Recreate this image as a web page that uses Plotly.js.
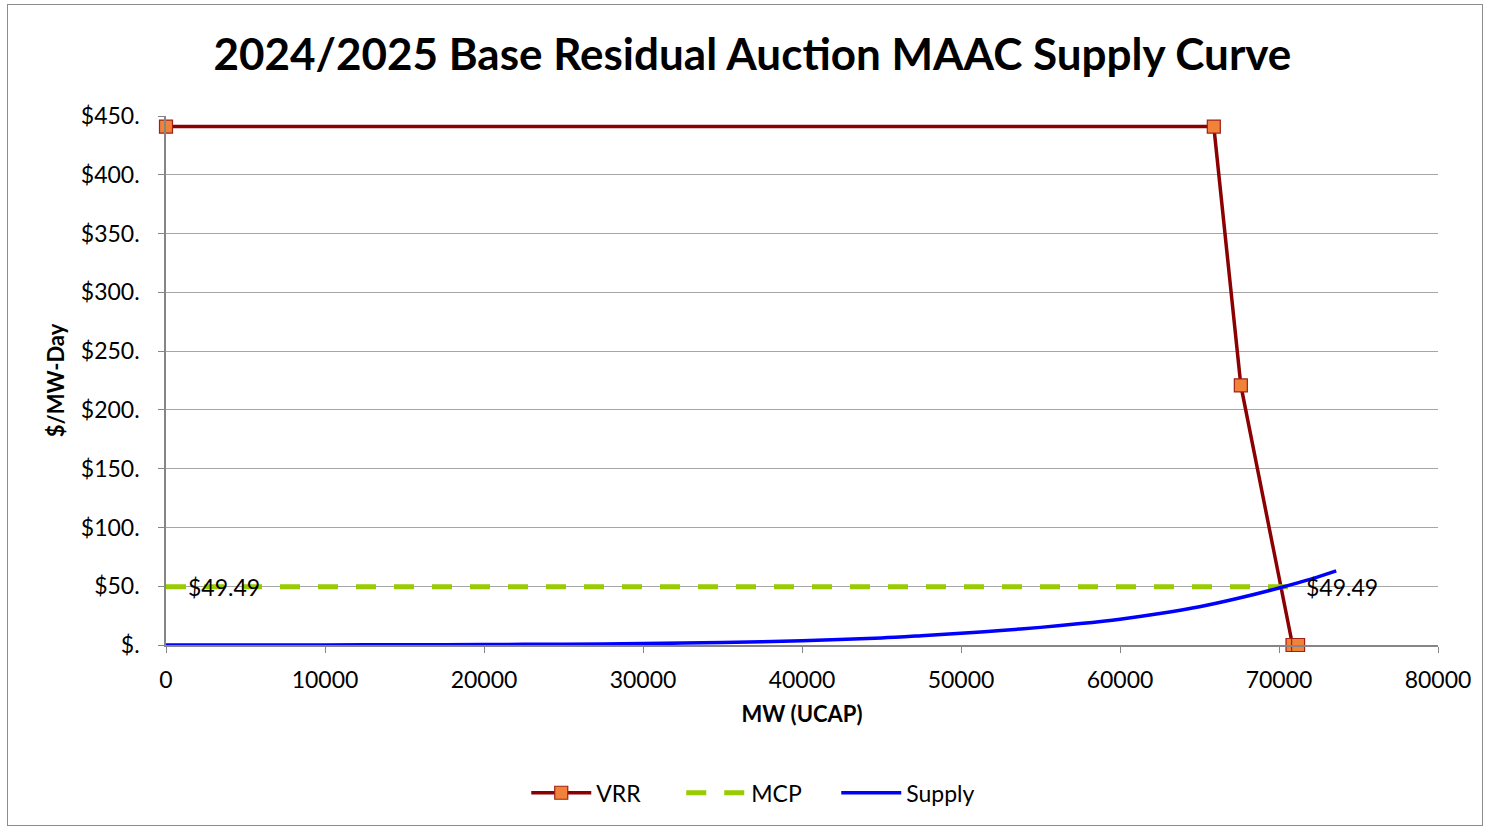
<!DOCTYPE html>
<html>
<head>
<meta charset="utf-8">
<script src="https://cdn.plot.ly/plotly-3.0.1.min.js"></script>
<style>
  body { margin: 0; background: #fff; }
  #chart { position: absolute; left: 7px; top: 4px; width: 1476px; height: 822px; border: 1px solid #8c8c8c; box-sizing: border-box; }
</style>
</head>
<body>
<div id="chart"></div>
<script>
// VRR curve points
var vrrMW = [0, 65900, 67600, 70850, 71200];
var vrrPrice = [441, 441, 220.8, 0, 0];

// market clearing price line
var mcpMW = [0, 70700];
var mcpPrice = [49.49, 49.49];
var mcpLabels = ['$49.49', '$49.49'];

// supply curve
var supplyMW = [0, 5000, 10000, 15000, 20000, 25000, 30000, 35000, 40000, 45000, 47500, 50000, 52500, 55000, 57500, 60000, 62500, 65000, 67500, 70000, 72000, 73600];
var supplyPrice = [0, 0.05, 0.1, 0.2, 0.4, 0.7, 1.2, 2.1, 3.6, 6.0, 7.9, 10, 12.3, 15, 18.2, 22, 26.8, 32.6, 40, 48.5, 56, 63];

var yTicks = [0, 50, 100, 150, 200, 250, 300, 350, 400, 450];
var yTickText = ['$.', '$50.', '$100.', '$150.', '$200.', '$250.', '$300.', '$350.', '$400.', '$450.'];

var font = 'Lato, "Open Sans", sans-serif';

var vrr = {
    x: vrrMW,
    y: vrrPrice,
    name: 'VRR',
    type: 'scatter',
    mode: 'lines+markers',
    cliponaxis: false,
    line: { color: '#8b0000', width: 3.5 },
    marker: { symbol: 'square', size: 13, color: '#f0823a', line: { color: '#a02018', width: 1.2 } }
};

var mcp = {
    x: mcpMW,
    y: mcpPrice,
    name: 'MCP',
    type: 'scatter',
    mode: 'lines',
    line: { color: '#99cc00', width: 5, dash: '20px,18px' }
};

var supply = {
    x: supplyMW,
    y: supplyPrice,
    name: 'Supply',
    type: 'scatter',
    mode: 'lines',
    line: { color: '#0000ff', width: 3.5, shape: 'spline', smoothing: 0.8 }
};

var annotations = [];
for (var i = 0; i < mcpMW.length; i++) {
    annotations.push({
        x: mcpMW[i], y: mcpPrice[i], text: mcpLabels[i],
        showarrow: false, xanchor: 'left', yanchor: 'middle',
        xshift: i == 0 ? 20 : 14,
        font: { family: font, size: 23, color: '#000' }
    });
}

var layout = {
    width: 1474,
    height: 820,
    margin: { l: 158, r: 44, t: 111, b: 179 },
    paper_bgcolor: '#fff',
    plot_bgcolor: '#fff',
    font: { family: font, size: 23, color: '#000' },
    title: {
        text: '<b>2024/2025 Base Residual Auction MAAC Supply Curve</b>',
        font: { family: font, size: 44, color: '#000' },
        x: 0.505, xanchor: 'center',
        yref: 'container', y: 0.939, yanchor: 'middle'
    },
    xaxis: {
        range: [0, 80000],
        dtick: 10000,
        tickformat: 'd',
        showgrid: false,
        zeroline: false,
        showline: true,
        linecolor: '#868686',
        linewidth: 1.5,
        ticks: 'outside',
        ticklen: 6,
        tickcolor: '#868686',
        ticklabelstandoff: 8,
        title: { text: '<b>MW (UCAP)</b>', font: { family: font, size: 22 }, standoff: 14 }
    },
    yaxis: {
        range: [0, 450],
        tickvals: yTicks,
        ticktext: yTickText,
        showgrid: true,
        gridcolor: '#a6a6a6',
        gridwidth: 1.2,
        zeroline: false,
        showline: true,
        linecolor: '#868686',
        linewidth: 1.5,
        ticks: 'outside',
        ticklen: 6,
        tickcolor: '#868686',
        ticklabelstandoff: 14,
        title: { text: '<b>$/MW-Day</b>', font: { family: font, size: 22 }, standoff: 10 }
    },
    legend: {
        orientation: 'h',
        x: 0.466, xanchor: 'center',
        y: -0.277, yanchor: 'middle',
        font: { family: font, size: 23 },
        entrywidth: 80,
        itemwidth: 60
    },
    annotations: annotations
};

Plotly.newPlot('chart', [vrr, mcp, supply], layout, { displayModeBar: false });
</script>
</body>
</html>
